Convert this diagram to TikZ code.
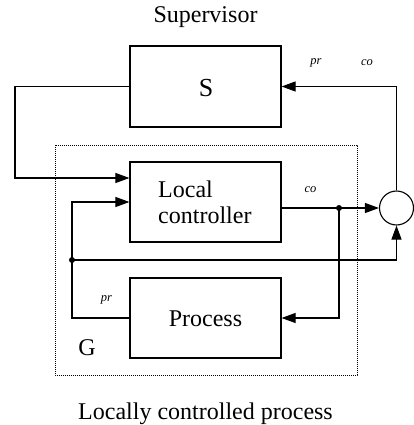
\documentclass[tikz,border=0pt]{standalone}
\usepackage{fontspec}
\setmainfont{Liberation Serif}
\usetikzlibrary{arrows.meta}
\tikzset{
  blk/.style={draw, line width=1.2pt, minimum width=151pt, minimum height=80pt, inner sep=0pt},
  wire/.style={line width=1.1pt},
  arr/.style={wire, -{Triangle[length=14pt,width=10pt]}},
  big/.style={font=\fontsize{24}{28}\selectfont, inner sep=0pt},
  sig/.style={font=\fontsize{12.5}{14}\selectfont\itshape, inner sep=0pt},
  jdot/.style={circle, fill, inner sep=0pt, minimum size=6pt},
}
\begin{document}
\begin{tikzpicture}[x=1pt,y=-1pt]
\useasboundingbox (0,0) rectangle (414,425);

% group boundary of the locally controlled process
\draw[line width=0.7pt, dash pattern=on 0.8pt off 1.2pt] (55,145) rectangle (357,375);

% blocks
\node[blk, minimum height=81pt] (S) at (205.5,86.5) {};
\node[blk] (LC) at (205.5,202) {};
\node[blk] (P) at (205.5,318) {};
\node[draw, circle, line width=1.1pt, minimum size=34pt, inner sep=0pt] (C) at (396.5,208) {};

% block texts
\node[big, font=\fontsize{26}{30}\selectfont, anchor=base] (St) at (206,96) {S};
\node[big, anchor=base west] (LCa) at (158,197) {Local};
\node[big, anchor=base west] (LCb) at (158,223) {controller};
\node[big, anchor=base] (Pt) at (205.5,326) {Process};
\node[big, anchor=base] (G) at (87,355) {G};
\node[big, anchor=base] (sup) at (205.5,23) {Supervisor};
\node[big, anchor=base] (lcp) at (205.5,419) {Locally controlled process};

% signal labels
\node[sig] (pr1) at (316,63) {pr};
\node[sig] (co1) at (367,63) {co};
\node[sig] (co2) at (310.5,190) {co};
\node[sig] (pr2) at (106.5,300) {pr};

% junctions and corners
\coordinate (j1) at (339,208);
\coordinate (j2) at (72,260);
\coordinate (sL) at (15,86.5);
\coordinate (sLb) at (15,178);
\node[jdot] (d1) at (j1) {};
\node[jdot] (d2) at (j2) {};

% supervisor to local controller
\draw[arr] (S.west) -- (sL) -- (sLb) -- (LC.west |- sLb);
% control output
\draw[wire] (LC.east |- j1) -- (j1);
\draw[arr] (j1) -- (C.west);
\draw[arr] (j1) |- (P.east);
% process output
\draw[arr] (P.west) -| (j2) |- (LC.west);
\draw[arr] (j2) -| (C.south);
% to supervisor
\draw[arr] (C.north) |- (S.east);
\end{tikzpicture}
\end{document}
